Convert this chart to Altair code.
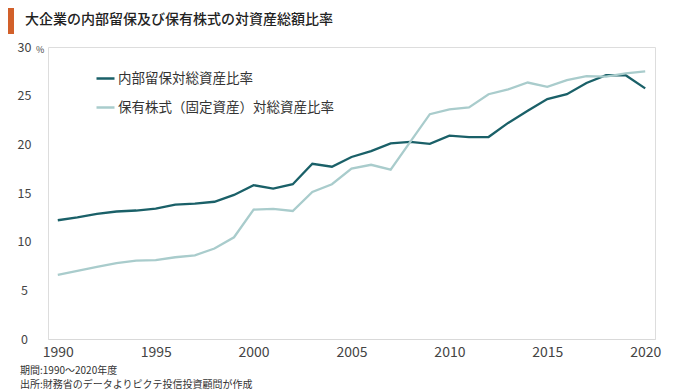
import altair as alt
import pandas as pd

years = list(range(1990, 2021))
retained = [12.2, 12.5, 12.85, 13.1, 13.2, 13.4, 13.8, 13.9, 14.1, 14.8,
            15.8, 15.45, 15.9, 18.0, 17.7, 18.7, 19.3, 20.1, 20.25, 20.05,
            20.9, 20.75, 20.75, 22.2, 23.45, 24.65, 25.15, 26.3, 27.1, 27.1,
            25.75]
stocks = [6.6, 7.0, 7.4, 7.8, 8.05, 8.1, 8.4, 8.6, 9.3, 10.45,
          13.3, 13.36, 13.15, 15.1, 15.9, 17.5, 17.9, 17.4, 20.25, 23.1,
          23.6, 23.8, 25.15, 25.65, 26.35, 25.9, 26.6, 27.0, 26.95, 27.3,
          27.5]
series_names = ["内部留保対総資産比率", "保有株式（固定資産）対総資産比率"]
series_colors = ["#1a6068", "#a9cccc"]

title_text = "大企業の内部留保及び保有株式の対資産総額比率"
unit_text = "%"
notes = ["期間:1990～2020年度", "出所:財務省のデータよりピクテ投信投資顧問が作成"]

FONT = "Noto Sans CJK JP"

df = pd.DataFrame({
    "year": years * 2,
    "value": retained + stocks,
    "series": [series_names[0]] * len(years) + [series_names[1]] * len(years),
})

lines = alt.Chart(df).mark_line(strokeWidth=2.3).encode(
    x=alt.X("year:Q",
            scale=alt.Scale(domain=[1989.5, 2020.5], nice=False, zero=False),
            axis=alt.Axis(values=[1990, 1995, 2000, 2005, 2010, 2015, 2020],
                          format="d", title=None, grid=False, ticks=False, tickSize=0,
                          domain=True, domainColor="#d9d9d9", domainWidth=1.2,
                          labelFontSize=14, labelColor="#444", labelFont=FONT,
                          labelPadding=6, labelFlush=False)),
    y=alt.Y("value:Q",
            scale=alt.Scale(domain=[0, 30], nice=False),
            axis=alt.Axis(values=[0, 5, 10, 15, 20, 25, 30], title=None, grid=False,
                          ticks=False, tickSize=0, domain=False,
                          labelFontSize=12.5, labelColor="#444", labelFont=FONT,
                          labelAlign="center", labelPadding=24)),
    color=alt.Color("series:N",
                    scale=alt.Scale(domain=series_names, range=series_colors),
                    legend=alt.Legend(orient="none", legendX=47, legendY=21, title=None,
                                      symbolType="stroke", symbolSize=324,
                                      symbolStrokeWidth=2.5, labelFontSize=13.5,
                                      labelFont=FONT, labelColor="#333",
                                      labelOffset=2, rowPadding=12, labelLimit=400)),
    order=alt.Order("year:Q"),
)

bar = alt.Chart(pd.DataFrame({"k": [0]})).mark_rect(color="#d2602a").encode(
    x=alt.value(-40), x2=alt.value(-34), y=alt.value(-39), y2=alt.value(-13)
)

title = alt.Chart(pd.DataFrame({"t": [title_text]})).mark_text(
    align="left", baseline="middle", fontSize=14, fontWeight=500,
    font=FONT, color="#222"
).encode(x=alt.value(-23), y=alt.value(-27), text="t:N")

unit = alt.Chart(pd.DataFrame({"t": [unit_text]})).mark_text(
    align="left", baseline="middle", fontSize=9, font=FONT, color="#444"
).encode(x=alt.value(-12), y=alt.value(3), text="t:N")

note1 = alt.Chart(pd.DataFrame({"t": [notes[0]]})).mark_text(
    align="left", baseline="middle", fontSize=10, font=FONT, color="#333"
).encode(x=alt.value(-28), y=alt.value(324), text="t:N")

note2 = alt.Chart(pd.DataFrame({"t": [notes[1]]})).mark_text(
    align="left", baseline="middle", fontSize=10, font=FONT, color="#333"
).encode(x=alt.value(-28), y=alt.value(338), text="t:N")

chart = alt.layer(lines, bar, title, unit, note1, note2).properties(
    width=607, height=292,
    autosize=alt.AutoSizeParams(type="none"),
    padding={"left": 40, "top": 39, "right": 17, "bottom": 53},
).configure_view(stroke=None).configure(background="white")

chart.save("out.html", embed_options={"renderer": "svg", "actions": False})
